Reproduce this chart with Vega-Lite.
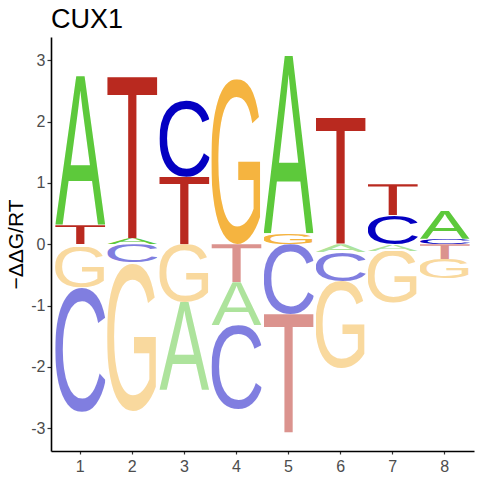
{
  "$schema": "https://vega.github.io/schema/vega-lite/v6.json",
  "width": 423,
  "height": 414,
  "autosize": "none",
  "padding": {"left": 51, "top": 37, "right": 6, "bottom": 29},
  "title": {"text": "CUX1", "anchor": "start", "frame": "group", "fontSize": 27, "fontWeight": "normal", "font": "Liberation Sans", "color": "black", "offset": 3},
  "config": {
    "view": {"stroke": null},
    "font": "Liberation Sans"
  },
  "data": {
    "values": [
      {"pos": 1, "letter": "T", "bottom": 0, "top": 0.31},
      {"pos": 1, "letter": "A", "bottom": 0.31, "top": 2.74},
      {"pos": 1, "letter": "G", "bottom": -0.7, "top": -0.04},
      {"pos": 1, "letter": "C", "bottom": -2.73, "top": -0.7},
      {"pos": 2, "letter": "A", "bottom": 0, "top": 0.1},
      {"pos": 2, "letter": "T", "bottom": 0.1, "top": 2.73},
      {"pos": 2, "letter": "C", "bottom": -0.3, "top": 0},
      {"pos": 2, "letter": "G", "bottom": -2.72, "top": -0.3},
      {"pos": 3, "letter": "T", "bottom": 0, "top": 1.1},
      {"pos": 3, "letter": "C", "bottom": 1.1, "top": 2.36},
      {"pos": 3, "letter": "G", "bottom": -0.94, "top": 0},
      {"pos": 3, "letter": "A", "bottom": -2.37, "top": -0.94},
      {"pos": 4, "letter": "G", "bottom": 0, "top": 2.69},
      {"pos": 4, "letter": "T", "bottom": -0.62, "top": 0},
      {"pos": 4, "letter": "A", "bottom": -1.32, "top": -0.62},
      {"pos": 4, "letter": "C", "bottom": -2.69, "top": -1.32},
      {"pos": 5, "letter": "G", "bottom": 0, "top": 0.18},
      {"pos": 5, "letter": "A", "bottom": 0.18, "top": 3.07},
      {"pos": 5, "letter": "C", "bottom": -1.14, "top": 0},
      {"pos": 5, "letter": "T", "bottom": -3.07, "top": -1.14},
      {"pos": 6, "letter": "T", "bottom": 0, "top": 2.06},
      {"pos": 6, "letter": "A", "bottom": -0.13, "top": 0},
      {"pos": 6, "letter": "C", "bottom": -0.6, "top": -0.13},
      {"pos": 6, "letter": "G", "bottom": -2.02, "top": -0.6},
      {"pos": 7, "letter": "C", "bottom": 0, "top": 0.47},
      {"pos": 7, "letter": "T", "bottom": 0.47, "top": 0.98},
      {"pos": 7, "letter": "A", "bottom": -0.11, "top": 0},
      {"pos": 7, "letter": "G", "bottom": -0.96, "top": -0.11},
      {"pos": 8, "letter": "C", "bottom": 0, "top": 0.09},
      {"pos": 8, "letter": "A", "bottom": 0.09, "top": 0.55},
      {"pos": 8, "letter": "T", "bottom": -0.24, "top": 0},
      {"pos": 8, "letter": "G", "bottom": -0.56, "top": -0.24}
    ]
  },
  "encoding": {
    "x": {
      "field": "pos",
      "type": "ordinal",
      "scale": {"paddingInner": 0.04, "paddingOuter": 0.08},
      "axis": {
        "title": null,
        "labelAngle": 0,
        "labelFontSize": 16,
        "labelColor": "#4D4D4D",
        "labelPadding": 4,
        "domainColor": "black",
        "domainWidth": 1.6,
        "tickColor": "#333333",
        "tickWidth": 1.2,
        "tickSize": 3
      }
    }
  },
  "layer": [
    {
      "transform": [
        {
          "calculate": "\"data:image/svg+xml;utf8,<svg xmlns='http://www.w3.org/2000/svg' width='100' height='100' preserveAspectRatio='none' viewBox='\" + (datum.letter == 'A' ? '0 -68.8 66.7 68.8' : datum.letter == 'T' ? '2.3 -68.8 56.4 68.8' : datum.letter == 'C' ? '4.9 -70.1 62.8 71.3' : '5.3 -70.1 66.9 71.3') + \"'><text x='0' y='0' font-family='Liberation Sans' font-size='100' fill='\" + (datum.letter == 'A' ? 'rgb(93,201,59)' : datum.letter == 'T' ? 'rgb(185,41,31)' : datum.letter == 'C' ? 'rgb(4,0,194)' : 'rgb(245,180,64)') + \"'>\" + datum.letter + \"</text></svg>\"",
          "as": "glyph"
        }
      ],
      "mark": {"type": "image", "aspect": false},
      "encoding": {
        "y": {
          "field": "top",
          "type": "quantitative",
          "scale": {"domain": [-3.37, 3.38], "nice": false, "zero": false},
          "axis": {
            "title": "−ΔΔG/RT",
            "titleFontSize": 21,
            "titleFontWeight": "normal",
            "titleColor": "black",
            "titlePadding": 4,
            "values": [-3, -2, -1, 0, 1, 2, 3],
            "labelExpr": "'' + datum.value",
            "grid": false,
            "labelFontSize": 16,
            "labelColor": "#4D4D4D",
            "labelPadding": 2,
            "domainColor": "black",
            "domainWidth": 1.6,
            "tickColor": "#333333",
            "tickWidth": 1.2,
            "tickSize": 4
          }
        },
        "y2": {"field": "bottom"},
        "url": {"field": "glyph", "type": "nominal"},
        "opacity": {"condition": {"test": "datum.top <= 0", "value": 0.5}, "value": 1}
      }
    },
    {
      "mark": {"type": "rule", "color": "black", "strokeWidth": 1.1},
      "encoding": {"y": {"datum": 0}}
    }
  ]
}
